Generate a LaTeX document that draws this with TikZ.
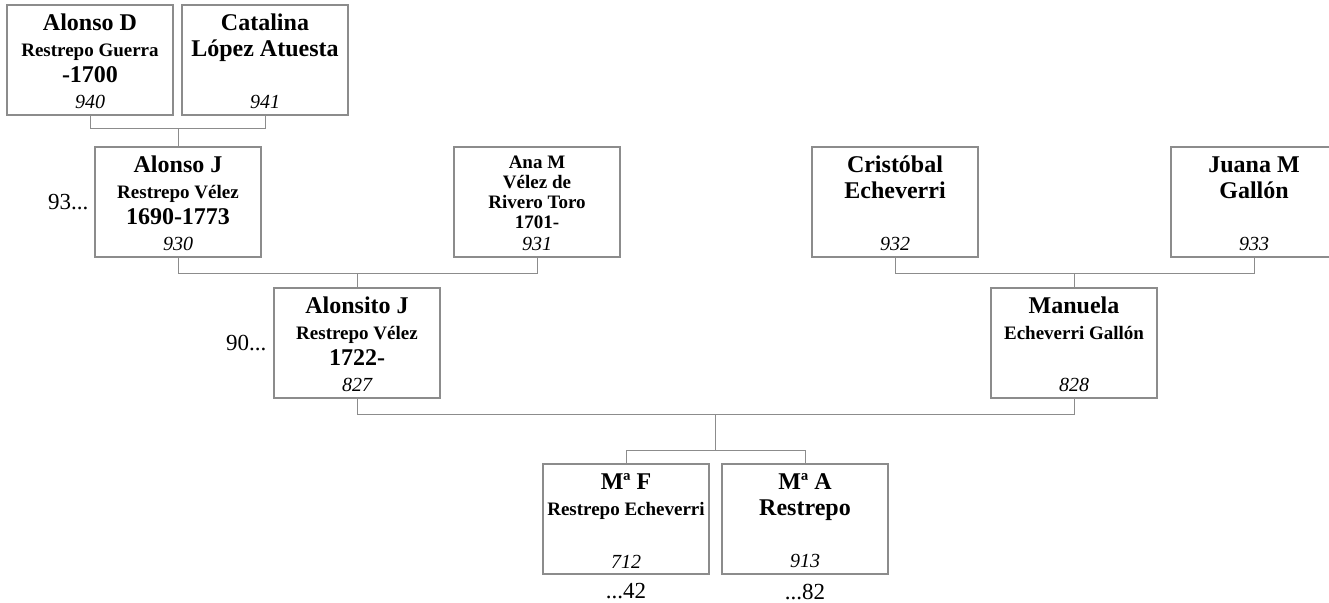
\documentclass[tikz,border=0pt]{standalone}
\usepackage{fontspec}
\setmainfont{Liberation Serif}
\usetikzlibrary{positioning,calc}
\definecolor{Frame}{HTML}{8C8C8C}
\definecolor{Wire}{HTML}{8C8C8C}
\definecolor{Ink}{HTML}{000000}

\newcommand{\card}[2]{\vbox to 110pt{\hsize=166pt\parindent=0pt\centering\vskip8pt #1\vfill\idno{#2}\vskip6pt}}
\newcommand{\nm}[1]{{\fontsize{24}{26}\selectfont\bfseries\rule{0pt}{17pt}#1\par}}
\newcommand{\sur}[1]{{\fontsize{19}{26}\selectfont\bfseries\rule{0pt}{17pt}#1\par}}
\newcommand{\sml}[1]{{\fontsize{19}{20}\selectfont\bfseries\rule{0pt}{13pt}#1\par}}
\newcommand{\idno}[1]{{\fontsize{20}{22}\selectfont\itshape #1\par}}

\begin{document}
\begin{tikzpicture}[x=1pt,y=-1pt,text=Ink,person/.style={draw=Frame,line width=1.1pt,inner sep=0pt,minimum width=166pt,minimum height=110pt},link/.style={draw=Wire,line width=1pt},gen/.style={inner sep=0pt,font=\fontsize{23}{25}\selectfont}]
\useasboundingbox (0,0) rectangle (1329,602);
% oldest generation
\node[person] (alonsoD) at (90,60) {\card{\nm{Alonso D}\sur{Restrepo Guerra}\nm{-1700}}{940}};
\node[person] (catalina) at (265,60) {\card{\nm{Catalina}\nm{López Atuesta}}{941}};
% grandparents
\node[person] (alonsoJ) at (178,202) {\card{\nm{Alonso J}\sur{Restrepo Vélez}\nm{1690-1773}}{930}};
\node[person] (anaM) at (537,202) {\card{\sml{Ana M}\sml{Vélez de}\sml{Rivero Toro}\sml{1701-}}{931}};
\node[person] (cristobal) at (895,202) {\card{\nm{Cristóbal}\nm{Echeverri}}{932}};
\node[person] (juana) at (1254,202) {\card{\nm{Juana M}\nm{Gallón}}{933}};
% parents
\node[person] (alonsito) at (357,343) {\card{\nm{Alonsito J}\sur{Restrepo Vélez}\nm{1722-}}{827}};
\node[person] (manuela) at (1074,343) {\card{\nm{Manuela}\sur{Echeverri Gallón}}{828}};
% children
\node[person] (mf) at (626,519) {\card{\nm{Mª F}\sur{Restrepo Echeverri}}{712}};
\node[person] (ma) at (805,519) {\card{\nm{Mª A}\nm{Restrepo}}{913}};
% generation marks
\node[gen,left=6pt of alonsoJ] (genJ) {93...};
\node[gen,left=7pt of alonsito] (genA) {90...};
\node[gen,below=9pt of mf] (genF) {...42};
\node[gen,below=9pt of ma] (genM) {...82};
% junctions
\coordinate (j1) at ($(alonsoD.south -| alonsoJ.north)+(0,13)$);
\coordinate (j2) at ($(alonsoJ.south -| alonsito.north)+(0,16)$);
\coordinate (j3) at ($(cristobal.south -| manuela.north)+(0,16)$);
\coordinate (j4) at ($(alonsito.south)!0.5!(manuela.south)+(0,16)$);
\coordinate (j5) at ($(j4)+(0,36)$);
\draw[link] (alonsoD.south) |- (j1) -| (catalina.south);
\draw[link] (j1) -- (alonsoJ.north);
\draw[link] (alonsoJ.south) |- (j2) -| (anaM.south);
\draw[link] (j2) -- (alonsito.north);
\draw[link] (cristobal.south) |- (j3) -| (juana.south);
\draw[link] (j3) -- (manuela.north);
\draw[link] (alonsito.south) |- (j4) -| (manuela.south);
\draw[link] (j4) -- (j5);
\draw[link] (mf.north) |- (j5) -| (ma.north);
\end{tikzpicture}
\end{document}
